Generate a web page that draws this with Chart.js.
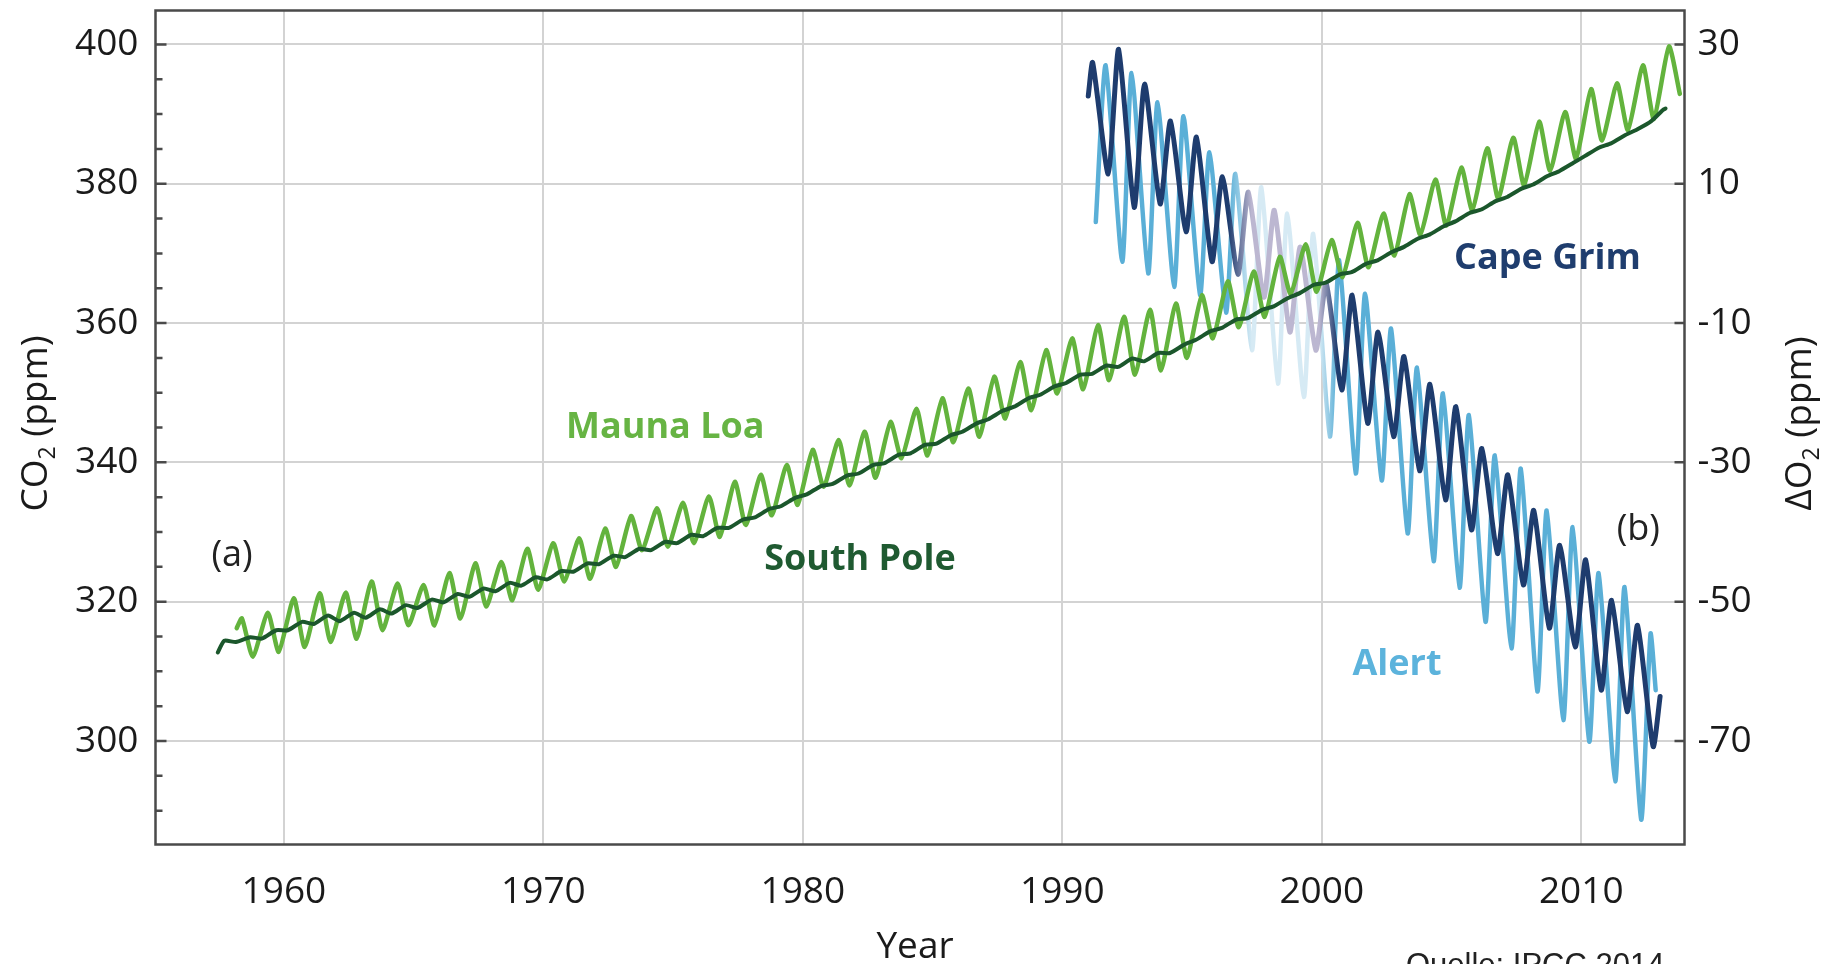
<!DOCTYPE html>
<html>
<head>
<meta charset="utf-8">
<title>CO2 und O2 – Mauna Loa, South Pole, Cape Grim, Alert</title>
<script src="https://cdn.jsdelivr.net/npm/chart.js@4.4.1/dist/chart.umd.min.js"></script>
<style>
  html, body { margin: 0; padding: 0; background: #fff; }
  #wrap { width: 1833px; height: 964px; }
</style>
</head>
<body>
<div id="wrap"><canvas id="chart" width="1833" height="964"></canvas></div>
<script>
// tick labels
const yearTicks = [1960, 1970, 1980, 1990, 2000, 2010];
const co2Ticks = [300, 320, 340, 360, 380, 400];
const o2Ticks = [-70, -50, -30, -10, 10, 30];

// Mauna Loa CO2 (ppm), spring maximum and autumn minimum of each year
const mlYears = [1958, 1959, 1960, 1961, 1962, 1963, 1964, 1965, 1966, 1967,
                 1968, 1969, 1970, 1971, 1972, 1973, 1974, 1975, 1976, 1977,
                 1978, 1979, 1980, 1981, 1982, 1983, 1984, 1985, 1986, 1987,
                 1988, 1989, 1990, 1991, 1992, 1993, 1994, 1995, 1996, 1997,
                 1998, 1999, 2000, 2001, 2002, 2003, 2004, 2005, 2006, 2007,
                 2008, 2009, 2010, 2011, 2012, 2013];
const mlMax = [317.6, 318.4, 320.5, 321.2, 321.3, 322.9, 322.6, 322.4, 324.1, 325.5,
               325.7, 327.6, 328.4, 329.1, 330.5, 332.3, 333.4, 334.2, 335.1, 337.2,
               338.2, 339.6, 341.8, 343.2, 344.4, 345.8, 347.7, 349.2, 350.6, 352.3,
               354.4, 356.1, 357.8, 359.7, 360.9, 361.9, 362.8, 364.0, 366.0, 367.4,
               369.5, 371.3, 371.9, 374.4, 375.7, 378.5, 380.6, 382.3, 385.1, 386.6,
               388.9, 390.3, 393.6, 394.4, 397.0, 399.7];
const mlMin = [312.1, 312.8, 313.5, 314.2, 314.7, 315.9, 316.6, 316.6, 317.6, 319.3,
               320.2, 321.7, 322.9, 323.3, 325.0, 327.4, 327.9, 328.4, 329.3, 331.0,
               332.4, 333.9, 336.5, 336.7, 337.8, 340.6, 341.0, 342.9, 343.7, 346.3,
               347.5, 349.9, 350.5, 351.8, 352.6, 353.2, 355.0, 357.8, 359.4, 360.9,
               364.2, 364.5, 366.6, 368.0, 369.7, 372.7, 374.0, 376.2, 377.9, 379.8,
               381.9, 383.6, 386.2, 387.7, 389.3, 392.9];
const mlFirst = [1958.18, 316.2];

// South Pole CO2 (ppm), late summer low and winter high of each year
const spYears = mlYears;
const spLow = [314.2, 314.7, 315.9, 316.8, 317.2, 317.7, 318.3, 319.1, 319.9, 320.7,
               321.5, 322.3, 323.2, 324.3, 325.4, 326.4, 327.4, 328.4, 329.4, 330.6,
               332.1, 333.7, 335.4, 336.9, 338.4, 339.9, 341.3, 342.7, 344.4, 346.2,
               348.0, 349.7, 351.4, 352.7, 353.7, 354.5, 355.7, 357.6, 359.3, 360.7,
               362.4, 364.3, 365.8, 367.3, 369.0, 370.9, 372.7, 374.6, 376.3, 378.1,
               379.9, 381.8, 384.0, 385.8, 387.8, 390.6];
const spHigh = [314.9, 315.9, 317.1, 318.0, 318.4, 318.9, 319.5, 320.3, 321.1, 321.9,
                322.7, 323.5, 324.4, 325.5, 326.6, 327.6, 328.6, 329.6, 330.6, 331.8,
                333.3, 334.9, 336.6, 338.1, 339.6, 341.1, 342.5, 343.9, 345.6, 347.4,
                349.2, 350.9, 352.6, 353.9, 354.9, 355.7, 356.9, 358.8, 360.5, 361.9,
                363.6, 365.5, 367.0, 368.5, 370.2, 372.1, 373.9, 375.8, 377.5, 379.3,
                381.1, 383.0, 385.2, 387.0, 389.0, null];
const spFirst = [[1957.45, 312.7], [1957.7, 314.4]];
const spLast = [2013.25, 390.8];

// delta O2 (ppm), right axis
const o2Years = [1991, 1992, 1993, 1994, 1995, 1996, 1997, 1998, 1999, 2000, 2001,
                 2002, 2003, 2004, 2005, 2006, 2007, 2008, 2009, 2010, 2011, 2012];
// Cape Grim: summer maximum, winter minimum
const cgMax = [27.4, 29.3, 24.3, 19.0, 16.7, 11.0, 8.8, 6.2, 0.9, -4.3, -6.0,
               -11.3, -14.8, -18.8, -22.0, -28.0, -31.8, -36.9, -41.9, -44.0, -49.8, -53.4];
const cgMin = [11.4, 6.6, 7.1, 3.1, -1.2, -3.0, -6.3, -11.3, -13.9, -19.6, -24.4,
               -26.3, -31.2, -35.4, -39.7, -43.1, -47.6, -53.8, -56.5, -62.7, -65.8, -70.8];
const cgFirst = [1991.0, 22.6];
const cgLast = [2013.04, -63.6];
// Alert: late winter minimum, summer maximum
const alMin = [null, -1.2, -2.9, -4.8, -6.0, -8.5, -13.9, -18.7, -20.6, -26.3, -31.6,
               -32.6, -40.2, -44.2, -48.0, -52.9, -56.7, -62.9, -67.0, -70.1, -75.8, -81.3];
const alMax = [27.0, 25.9, 21.7, 19.7, 14.5, 11.4, 9.5, 5.7, 2.8, -1.0, -5.8,
               -10.8, -16.4, -20.1, -23.2, -29.0, -30.9, -36.9, -39.3, -45.9, -47.9, -54.6];
const alFirst = [1991.29, 4.5];
const alLast = [2012.87, -62.7];

// right axis is the left one shifted by this amount
const o2Offset = 370;

const plotLabels = [
    { text: 'Mauna Loa', x: 1974.7, y: 344.9, axis: 'y', color: '#67b444', bold: true },
    { text: 'South Pole', x: 1982.2, y: 326.0, axis: 'y', color: '#1f5a31', bold: true },
    { text: 'Cape Grim', x: 2008.7, y: -0.7, axis: 'y2', color: '#1f3d6e', bold: true },
    { text: 'Alert', x: 2002.9, y: -59.1, axis: 'y2', color: '#5cb3dc', bold: true },
    { text: '(a)', x: 1958.0, y: 326.6, axis: 'y', color: '#222', bold: false },
    { text: '(b)', x: 2012.2, y: 330.3, axis: 'y', color: '#222', bold: false }
];

const FONT = "'Open Sans', 'DejaVu Sans', sans-serif";
Chart.defaults.font.family = FONT;

function pt(p) {
    return { x: p[0], y: p[1] };
}

// build the point lists, extremes sit at fixed times of the year
const mlPoints = [pt(mlFirst)];
mlYears.forEach((yr, i) => {
    mlPoints.push({ x: yr + 0.38, y: mlMax[i] });
    mlPoints.push({ x: yr + 0.8, y: mlMin[i] });
});

const spPoints = spFirst.map(pt);
spYears.forEach((yr, i) => {
    spPoints.push({ x: yr + 0.15, y: spLow[i] });
    if (spHigh[i] !== null) spPoints.push({ x: yr + 0.7, y: spHigh[i] });
});
spPoints.push(pt(spLast));

const cgPoints = [pt(cgFirst)];
o2Years.forEach((yr, i) => {
    cgPoints.push({ x: yr + 0.17, y: cgMax[i] });
    cgPoints.push({ x: yr + 0.77, y: cgMin[i] });
});
cgPoints.push(pt(cgLast));

const alPoints = [pt(alFirst)];
o2Years.forEach((yr, i) => {
    if (alMin[i] !== null) alPoints.push({ x: yr + 0.31, y: alMin[i] });
    alPoints.push({ x: yr + 0.67, y: alMax[i] });
});
alPoints.push(pt(alLast));

// the O2 curves fade out where they cross the CO2 curves
function fadeColor(full, pale) {
    return function(context) {
        const chart = context.chart;
        const area = chart.chartArea;
        if (!area) return full;
        const xs = chart.scales.x;
        const w = area.right - area.left;
        const stop = yr => Math.min(1, Math.max(0, (xs.getPixelForValue(yr) - area.left) / w));
        const g = chart.ctx.createLinearGradient(area.left, 0, area.right, 0);
        g.addColorStop(stop(1996.4), full);
        g.addColorStop(stop(1997.3), pale);
        g.addColorStop(stop(1999.9), pale);
        g.addColorStop(stop(2000.6), full);
        return g;
    };
}

function drawTitle(ctx, parts, cx, cy, size, rotate) {
    ctx.save();
    ctx.translate(cx, cy);
    if (rotate) ctx.rotate(-Math.PI / 2);
    const big = size + 'px ' + FONT;
    const small = Math.round(size * 0.62) + 'px ' + FONT;
    let total = 0;
    parts.forEach(p => {
        ctx.font = p.sub ? small : big;
        total += ctx.measureText(p.t).width;
    });
    let x = -total / 2;
    ctx.textAlign = 'left';
    ctx.textBaseline = 'alphabetic';
    ctx.fillStyle = '#1a1a1a';
    parts.forEach(p => {
        ctx.font = p.sub ? small : big;
        ctx.fillText(p.t, x, size * 0.36 + (p.sub ? size * 0.22 : 0));
        x += ctx.measureText(p.t).width;
    });
    ctx.restore();
}

// keep the plot box where it is: no extra room for half tick labels
function fixBox(size) {
    return function(s) {
        if (s.isHorizontal()) s.height = size; else s.width = size;
        s.paddingTop = 0;
        s.paddingBottom = 0;
        s.paddingLeft = 0;
        s.paddingRight = 0;
    };
}

const overlay = {
    id: 'overlay',
    afterDatasetsDraw(chart) {
        const { ctx, chartArea: a, scales } = chart;
        ctx.save();

        // frame round the plot
        ctx.strokeStyle = '#4a4a4a';
        ctx.lineWidth = 2.5;
        ctx.strokeRect(a.left, a.top, a.right - a.left, a.bottom - a.top);

        // inward ticks
        ctx.beginPath();
        for (let v = 290; v <= 400; v += 5) {
            const y = scales.y.getPixelForValue(v);
            const len = co2Ticks.includes(v) ? 11 : 7;
            ctx.moveTo(a.left, y);
            ctx.lineTo(a.left + len, y);
        }
        o2Ticks.forEach(v => {
            const y = scales.y2.getPixelForValue(v);
            ctx.moveTo(a.right, y);
            ctx.lineTo(a.right - 10, y);
        });
        ctx.stroke();

        // series names and panel letters
        ctx.textAlign = 'center';
        ctx.textBaseline = 'middle';
        plotLabels.forEach(l => {
            ctx.font = (l.bold ? 'bold ' : '') + '36px ' + FONT;
            ctx.fillStyle = l.color;
            ctx.fillText(l.text, scales.x.getPixelForValue(l.x), scales[l.axis].getPixelForValue(l.y));
        });

        // axis titles
        const midY = (a.top + a.bottom) / 2 - 4;
        drawTitle(ctx, [{ t: 'CO' }, { t: '2', sub: true }, { t: ' (ppm)' }], 34, midY, 37, true);
        drawTitle(ctx, [{ t: '\u0394O' }, { t: '2', sub: true }, { t: ' (ppm)' }], 1798, midY, 37, true);
        drawTitle(ctx, [{ t: 'Year' }], (a.left + a.right) / 2 - 5, 945, 37, false);

        // source
        ctx.font = "31px 'Liberation Sans', Arial, sans-serif";
        ctx.fillStyle = '#222';
        ctx.textAlign = 'left';
        ctx.textBaseline = 'alphabetic';
        ctx.fillText('Quelle: IPCC 2014', 1406, 975);

        ctx.restore();
    }
};

const gridStyle = { color: '#d3d3d3', lineWidth: 2, drawTicks: false };

new Chart(document.getElementById('chart'), {
    type: 'line',
    data: {
        datasets: [
            { label: 'South Pole', data: spPoints, borderColor: '#1b572c', borderWidth: 4, yAxisID: 'y' },
            { label: 'Mauna Loa', data: mlPoints, borderColor: '#63b33d', borderWidth: 4.5, yAxisID: 'y' },
            { label: 'Cape Grim', data: cgPoints, borderColor: fadeColor('#1e3c6e', '#bcb7d1'), borderWidth: 5, yAxisID: 'y2' },
            { label: 'Alert', data: alPoints, borderColor: fadeColor('#5aafd7', '#d6eaf4'), borderWidth: 4.5, yAxisID: 'y2' }
        ]
    },
    options: {
        responsive: false,
        animation: false,
        layout: { padding: { top: 10.5, left: 0, right: 0, bottom: 0 } },
        elements: {
            point: { radius: 0 },
            line: { tension: 0.2, borderJoinStyle: 'round', borderCapStyle: 'round', fill: false }
        },
        plugins: {
            legend: { display: false },
            tooltip: { enabled: false }
        },
        scales: {
            x: {
                type: 'linear',
                min: 1955.05,
                max: 2013.98,
                afterBuildTicks: s => { s.ticks = yearTicks.map(v => ({ value: v })); },
                afterFit: fixBox(119.5),
                grid: gridStyle,
                border: { display: false },
                ticks: { padding: 26, color: '#1a1a1a', font: { size: 37 }, maxRotation: 0, autoSkip: false,
                         callback: v => String(v) }
            },
            y: {
                position: 'left',
                min: 285.14,
                max: 404.87,
                afterBuildTicks: s => { s.ticks = co2Ticks.map(v => ({ value: v })); },
                afterFit: fixBox(155.5),
                grid: gridStyle,
                border: { display: false },
                ticks: { padding: 17, color: '#1a1a1a', font: { size: 37 }, callback: v => String(v) }
            },
            y2: {
                position: 'right',
                min: 285.14 - o2Offset,
                max: 404.87 - o2Offset,
                afterBuildTicks: s => { s.ticks = o2Ticks.map(v => ({ value: v })); },
                afterFit: fixBox(148.5),
                grid: { display: false },
                border: { display: false },
                ticks: { padding: 5, color: '#1a1a1a', font: { size: 37 }, callback: v => String(v) }
            }
        }
    },
    plugins: [overlay]
});
</script>
</body>
</html>
